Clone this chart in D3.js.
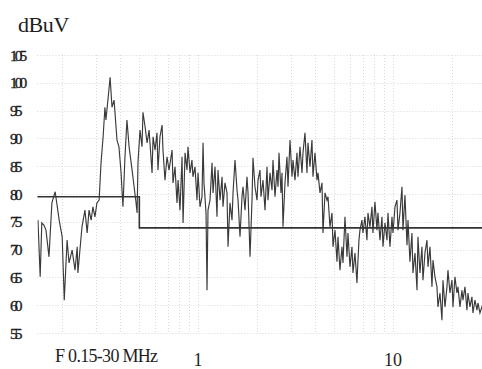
<!DOCTYPE html>
<html>
<head>
<meta charset="utf-8">
<script src="https://cdn.jsdelivr.net/npm/d3@7"></script>
<style>
  html, body { margin: 0; padding: 0; background: #fff; }
  svg { display: block; }
  .lbl { font-family: "Liberation Serif", "Times New Roman", serif; fill: #1e1e1e; }
</style>
</head>
<body>
<svg id="chart" width="482" height="369"></svg>
<script>
// Conducted emission scan, 0.15–30 MHz
const freqMHz = [
  0.151, 0.155, 0.158, 0.162, 0.166, 0.172, 0.178, 0.185, 0.194, 0.201,
  0.206, 0.213, 0.218, 0.226, 0.234, 0.240, 0.242, 0.254, 0.263, 0.270,
  0.276, 0.283, 0.289, 0.296, 0.303, 0.311, 0.318, 0.326, 0.333, 0.337,
  0.345, 0.354, 0.362, 0.371, 0.384, 0.393, 0.403, 0.412, 0.422, 0.432,
  0.443, 0.459, 0.470, 0.481, 0.487, 0.492, 0.504, 0.516, 0.522, 0.535,
  0.548, 0.561, 0.581, 0.588, 0.602, 0.616, 0.623, 0.638, 0.654, 0.661,
  0.677, 0.693, 0.710, 0.736, 0.744, 0.762, 0.780, 0.790, 0.808, 0.828,
  0.838, 0.858, 0.878, 0.888, 0.910, 0.931, 0.942, 0.965, 0.988, 1.000,
  1.024, 1.048, 1.061, 1.073, 1.099, 1.112, 1.125, 1.152, 1.180, 1.194,
  1.222, 1.251, 1.266, 1.297, 1.328, 1.343, 1.375, 1.408, 1.425, 1.459,
  1.494, 1.512, 1.548, 1.585, 1.604, 1.642, 1.681, 1.701, 1.742, 1.783,
  1.805, 1.848, 1.892, 1.914, 1.960, 2.007, 2.031, 2.079, 2.104, 2.154,
  2.206, 2.259, 2.285, 2.340, 2.396, 2.424, 2.482, 2.541, 2.572, 2.602,
  2.664, 2.696, 2.728, 2.793, 2.860, 2.894, 2.963, 3.034, 3.070, 3.143,
  3.218, 3.256, 3.334, 3.415, 3.454, 3.537, 3.621, 3.664, 3.752, 3.841,
  3.887, 3.981, 4.076, 4.125, 4.223, 4.324, 4.375, 4.480, 4.587, 4.642,
  4.752, 4.866, 4.924, 5.041, 5.162, 5.223, 5.348, 5.475, 5.540, 5.672,
  5.808, 5.877, 6.017, 6.161, 6.234, 6.383, 6.535, 6.613, 6.691, 6.771,
  6.932, 7.015, 7.182, 7.354, 7.441, 7.619, 7.801, 7.893, 8.082, 8.275,
  8.373, 8.577, 8.782, 8.886, 9.098, 9.315, 9.426, 9.651, 9.883, 10.00,
  10.24, 10.48, 10.61, 10.86, 11.12, 11.25, 11.52, 11.80, 11.94, 12.22,
  12.51, 12.66, 12.97, 13.28, 13.43, 13.75, 14.08, 14.25, 14.59, 14.94,
  15.12, 15.48, 15.85, 16.04, 16.42, 16.81, 17.01, 17.42, 17.83, 18.05,
  18.48, 18.92, 19.14, 19.60, 20.07, 20.31, 20.79, 21.29, 21.54, 22.06,
  22.59, 22.85, 23.40, 23.96, 24.24, 24.82, 25.41, 25.72, 26.33, 26.96,
  27.28, 27.93, 28.60, 29.30, 30.00
];
const levelDbuV = [
  75.3, 65.1, 74.8, 74.4, 73.5, 68.7, 78.4, 80.4, 75.3, 72.3,
  60.9, 71.7, 67.6, 69.9, 66.3, 70.5, 65.8, 74.1, 77.1, 73.0,
  77.1, 75.3, 77.7, 75.9, 78.4, 78.9, 85.6, 90.3, 95.6, 93.3,
  96.9, 101.0, 95.6, 96.9, 89.7, 88.5, 83.8, 77.7, 86.7, 93.3,
  88.5, 84.3, 81.3, 78.4, 76.6, 85.6, 91.5, 88.5, 94.7, 92.1,
  89.2, 91.5, 83.8, 90.3, 87.9, 91.0, 84.3, 90.3, 92.4, 87.9,
  82.5, 86.7, 84.3, 87.9, 82.0, 84.9, 78.4, 82.5, 77.1, 86.7,
  74.8, 87.4, 84.3, 88.5, 83.8, 86.1, 83.1, 84.9, 78.9, 83.8,
  77.7, 79.5, 89.2, 82.0, 76.6, 62.7, 77.1, 78.9, 85.6, 80.2,
  84.9, 75.9, 84.3, 78.9, 83.1, 77.7, 82.0, 80.2, 70.5, 78.4,
  75.3, 80.2, 86.1, 80.7, 78.9, 72.3, 79.5, 81.3, 77.1, 83.1,
  80.2, 68.7, 78.9, 86.5, 81.3, 78.9, 82.5, 84.3, 79.5, 82.5,
  77.1, 84.9, 78.9, 83.8, 80.7, 86.1, 79.5, 84.3, 81.3, 87.4,
  80.2, 83.8, 74.1, 82.0, 86.7, 81.3, 89.7, 83.1, 86.1, 82.5,
  87.4, 83.1, 88.5, 83.8, 87.4, 91.0, 83.8, 89.2, 84.9, 89.7,
  83.1, 87.4, 82.5, 83.8, 80.2, 82.0, 73.0, 80.2, 78.9, 79.5,
  74.1, 76.6, 70.5, 73.5, 67.8, 72.3, 66.3, 70.5, 67.6, 75.9,
  68.7, 73.0, 66.9, 70.5, 65.8, 69.4, 64.0, 68.1, 71.7, 73.5,
  75.3, 73.0, 75.9, 71.7, 76.6, 74.1, 77.7, 73.0, 78.6, 73.5,
  76.6, 71.7, 75.9, 70.5, 74.8, 71.7, 76.6, 70.5, 75.9, 73.0,
  77.7, 78.9, 73.5, 76.6, 81.3, 73.5, 79.8, 70.8, 75.3, 67.8,
  73.0, 65.8, 69.4, 62.7, 72.3, 65.8, 70.5, 64.5, 69.4, 71.7,
  66.9, 70.5, 63.3, 68.1, 65.1, 63.3, 59.7, 62.2, 57.3, 64.5,
  59.7, 63.3, 66.3, 62.2, 64.5, 59.7, 65.1, 62.2, 63.3, 59.7,
  62.7, 60.9, 63.3, 59.1, 62.2, 59.7, 61.5, 58.6, 60.9, 59.1,
  60.4, 58.6, 59.7, 58.9, 59.5
];

// Limit line (stepped at 0.5 MHz)
const limitFreq = [0.15, 0.5, 0.5, 30];
const limitDb   = [79.5, 79.5, 73.9, 73.9];

// Axis ticks
const yTicks = [55, 60, 65, 70, 75, 80, 85, 90, 95, 100, 105];
const xTickLabels = [1, 10];
const xGrid = [0.2, 0.3, 0.4, 0.5, 0.6, 0.7, 0.8, 0.9, 1, 2, 3, 4, 5, 6, 7, 8, 9, 10, 20, 30];

const svg = d3.select("#chart");
const x = d3.scaleLog().domain([0.15, 30]).range([37.4, 486]);
const y = d3.scaleLinear().domain([55, 105]).range([333, 55]);

// faint dotted grid
const grid = svg.append("g")
  .attr("stroke", "#d8d8d8").attr("stroke-width", 1)
  .attr("stroke-dasharray", "1,2").attr("fill", "none");
grid.selectAll("line.v").data(xGrid).join("line")
  .attr("class", "v")
  .attr("x1", d => Math.round(x(d)) + 0.5).attr("x2", d => Math.round(x(d)) + 0.5)
  .attr("y1", y(105)).attr("y2", y(55));
grid.selectAll("line.h").data(yTicks).join("line")
  .attr("class", "h")
  .attr("x1", x(0.15)).attr("x2", 482)
  .attr("y1", d => Math.round(y(d)) + 0.5).attr("y2", d => Math.round(y(d)) + 0.5);

svg.append("clipPath").attr("id", "plotClip")
  .append("rect").attr("x", x(0.15)).attr("y", 40).attr("width", 482 - x(0.15)).attr("height", 300);

// measured trace
const trace = freqMHz.map((f, i) => [f, levelDbuV[i]]);
svg.append("path")
  .datum(trace)
  .attr("clip-path", "url(#plotClip)")
  .attr("fill", "none")
  .attr("stroke", "#3a3a3a")
  .attr("stroke-width", 1.15)
  .attr("stroke-linejoin", "miter")
  .attr("d", d3.line().x(d => x(d[0])).y(d => y(d[1])));

// limit line
const limit = limitFreq.map((f, i) => [f, limitDb[i]]);
svg.append("path")
  .datum(limit)
  .attr("fill", "none")
  .attr("stroke", "#333")
  .attr("stroke-width", 1.6)
  .attr("d", d3.line().x(d => x(d[0])).y(d => y(d[1])));

// y tick labels
svg.append("g").selectAll("text").data(yTicks).join("text")
  .attr("class", "lbl")
  .attr("x", 10)
  .attr("y", d => y(d) + 5.5)
  .attr("font-size", 15.5)
  .attr("letter-spacing", "-3px")
  .attr("stroke", "#1e1e1e")
  .attr("stroke-width", 0.35)
  .text(d => d);

// x tick labels
svg.append("g").selectAll("text").data(xTickLabels).join("text")
  .attr("class", "lbl")
  .attr("x", d => x(d))
  .attr("y", 366)
  .attr("font-size", 18)
  .attr("text-anchor", "middle")
  .text(d => d);

// unit and range captions
svg.append("text").attr("class", "lbl")
  .attr("x", 18).attr("y", 32)
  .attr("font-size", 22)
  .attr("letter-spacing", "-0.4px")
  .text("dBuV");

svg.append("text").attr("class", "lbl")
  .attr("x", 55).attr("y", 362)
  .attr("font-size", 18)
  .attr("letter-spacing", "-0.7px")
  .text("F 0.15-30 MHz");
</script>
</body>
</html>
